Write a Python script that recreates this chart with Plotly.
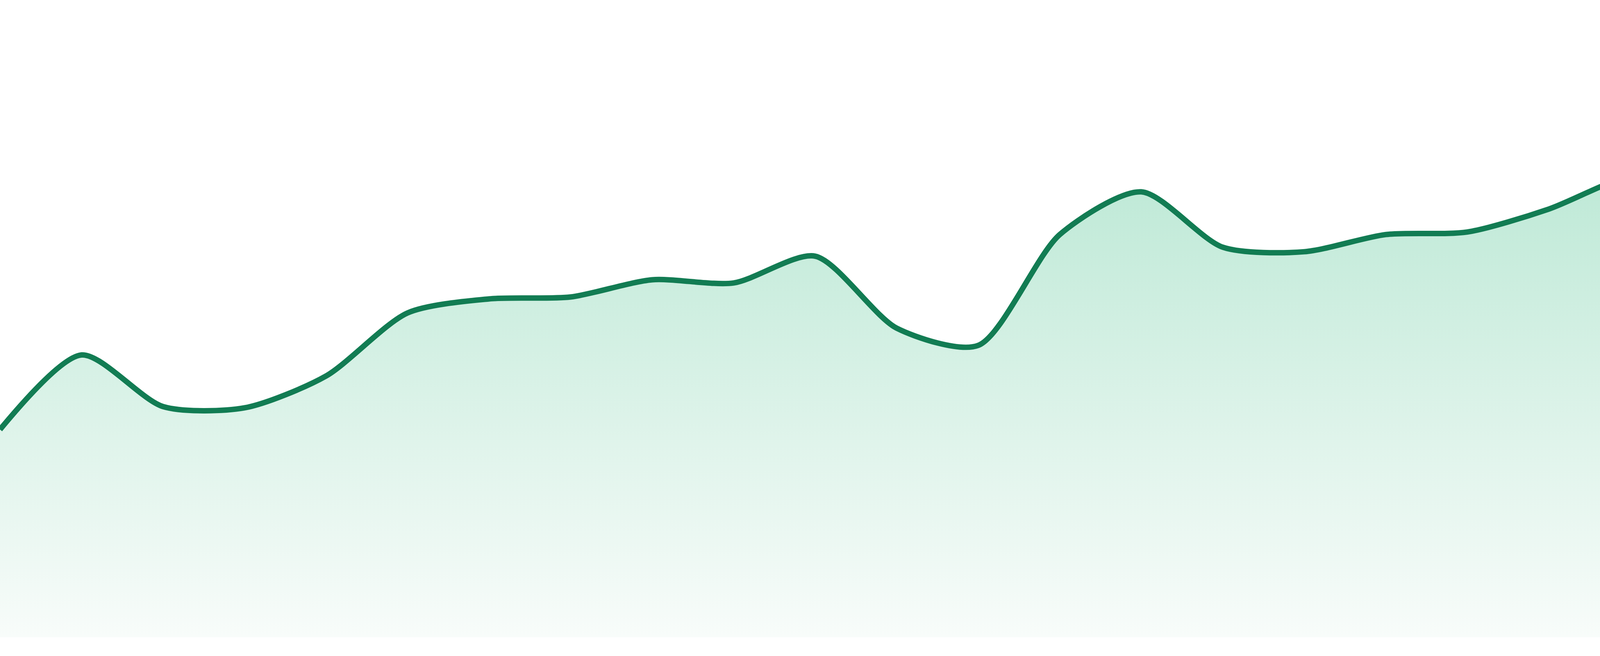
import plotly.graph_objects as go

# Data (axes are hidden)
labels = [f"P{i+1}" for i in range(24)]
values = [32.6, 44.3, 36.2, 36.0, 41.0, 50.9, 53.1, 53.4, 56.1, 55.6, 59.8, 48.5,
          45.8, 63.2, 69.9, 61.2, 60.5, 63.2, 63.6, 67.2, 72.4, 72.9, 81.9, 87.8]
x_idx = list(range(len(values)))

LINE_COLOR = "#127c53"
FILL_TOP = "rgb(178,229,207)"
FILL_BOTTOM = "rgb(248,252,250)"

fig = go.Figure()
fig.add_trace(go.Scatter(
    x=x_idx,
    y=values,
    mode="lines",
    line=dict(color=LINE_COLOR, width=14, shape="spline", smoothing=0.75),
    fill="tozeroy",
    fillgradient=dict(
        type="vertical",
        colorscale=[[0, FILL_BOTTOM], [1, FILL_TOP]],
        start=0,
        stop=max(values),
    ),
    hoverinfo="skip",
    showlegend=False,
))

fig.update_layout(
    width=4800,
    height=1680,
    margin=dict(l=0, r=0, t=0, b=48, pad=0),
    paper_bgcolor="white",
    plot_bgcolor="white",
    xaxis=dict(range=[0, len(values) - 1], visible=False, showgrid=False, zeroline=False,
               tickvals=x_idx, ticktext=labels),
    yaxis=dict(range=[0, 100], visible=False, showgrid=False, zeroline=False),
)

fig.write_html(
    "out.html",
    config={"displayModeBar": False},
    post_script="document.body.style.margin='0';document.body.style.padding='0';document.body.style.overflow='hidden';",
)
